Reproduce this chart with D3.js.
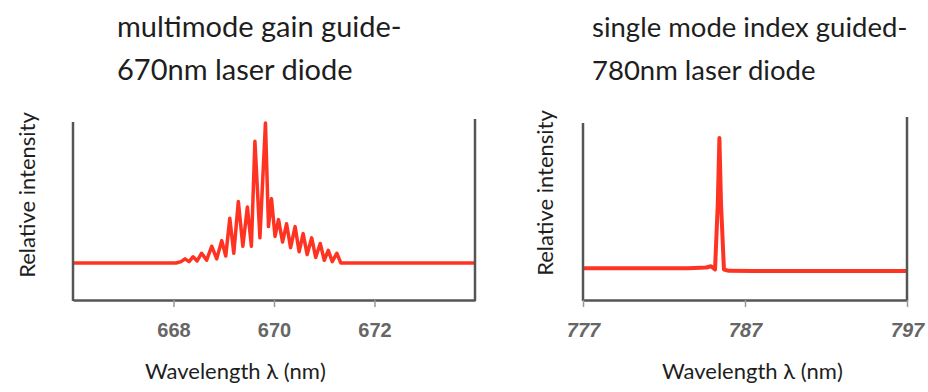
<!DOCTYPE html>
<html>
<head>
<meta charset="utf-8">
<script src="https://cdn.jsdelivr.net/npm/d3@7"></script>
<style>
  body { margin: 0; background: #fff; }
  svg { display: block; }
  .title, .label { font-family: Lato, "Open Sans", sans-serif; fill: #1e1e1e; }
  .tick text { font-family: "Liberation Sans", Arial, sans-serif; fill: #666; }
</style>
</head>
<body>
<div id="chart"></div>
<script>
// multimode gain-guided 670nm diode: peaks and valleys of the mode comb
var multiWavelength = [666, 668.05, 668.15, 668.23, 668.31, 668.39, 668.47, 668.56, 668.66, 668.76, 668.86,
  668.96, 669.04, 669.12, 669.2, 669.29, 669.38, 669.47, 669.55, 669.62, 669.72, 669.83, 669.89,
  669.95, 670.02, 670.09, 670.17, 670.25, 670.33, 670.42, 670.5, 670.58, 670.66, 670.75, 670.83,
  670.92, 671.0, 671.08, 671.16, 671.25, 671.33, 674];
var multiIntensity = [0, 0, 0.01, 0.03, 0.01, 0.045, 0.015, 0.07, 0.02, 0.12, 0.03,
  0.16, 0.05, 0.32, 0.07, 0.44, 0.12, 0.40, 0.12, 0.87, 0.18, 1.0, 0.26,
  0.46, 0.19, 0.31, 0.15, 0.28, 0.11, 0.26, 0.08, 0.21, 0.06, 0.18, 0.04,
  0.14, 0.02, 0.09, 0.01, 0.07, 0, 0];
var multiTicks = [668, 670, 672];

// single-mode index-guided 780nm diode
var singleWavelength = [777, 783.5, 784.6, 784.9, 785.15, 785.32, 785.42, 785.52, 785.7, 786.0, 787.5, 797];
var singleIntensity = [0.01, 0.01, 0.015, 0.025, 0.0, 0.5, 1.0, 0.5, 0.0, -0.01, -0.012, -0.012];
var singleTicks = [777, 787, 797];

var titleLeft = ["multimode gain guide-", "670nm laser diode"];
var titleRight = ["single mode index guided-", "780nm laser diode"];
var yLabel = "Relative intensity";
var xLabel = "Wavelength \u03bb (nm)";

var W = 928, H = 392;
var svg = d3.select("#chart").append("svg").attr("width", W).attr("height", H);

function panel(cfg) {
  var x = d3.scaleLinear().domain(cfg.xDomain).range([cfg.left, cfg.right]);
  var y = d3.scaleLinear().domain(cfg.yDomain).range([300, cfg.top]);
  var g = svg.append("g");

  var data = cfg.wl.map(function(d, i) { return [d, cfg.val[i]]; });
  var line = d3.line().x(function(d) { return x(d[0]); }).y(function(d) { return y(d[1]); });

  g.append("path")
      .datum(data)
      .attr("d", line)
      .attr("fill", "none")
      .attr("stroke", "#ff3322")
      .attr("stroke-width", cfg.lw)
      .attr("stroke-linejoin", "round");

  // frame: two verticals plus the bottom axis
  g.append("line")
      .attr("x1", x(cfg.xDomain[0])).attr("x2", x(cfg.xDomain[0]))
      .attr("y1", cfg.frameTopL).attr("y2", 301)
      .attr("stroke", "#555").attr("stroke-width", 2.5);
  g.append("line")
      .attr("x1", x(cfg.xDomain[1])).attr("x2", x(cfg.xDomain[1]))
      .attr("y1", cfg.frameTopR).attr("y2", 301)
      .attr("stroke", "#555").attr("stroke-width", 2.5);

  var axis = g.append("g")
      .attr("transform", "translate(0,300)")
      .call(d3.axisBottom(x).tickValues(cfg.ticks).tickSize(7).tickSizeOuter(0));
  axis.select(".domain").attr("stroke", "#555").attr("stroke-width", 2.5);
  axis.selectAll(".tick line").attr("stroke", "#999").attr("stroke-width", 1.5);
  axis.selectAll(".tick text")
      .attr("y", 37).attr("dy", 0)
      .style("font-size", "20px").style("font-weight", "bold").style("font-style", cfg.italic ? "italic" : "normal");

  svg.append("text")
      .attr("class", "label")
      .attr("transform", "translate(" + cfg.yLabelX + "," + cfg.yLabelY + ") rotate(-90)")
      .attr("text-anchor", "middle")
      .style("font-size", "22px")
      .text(yLabel);

  svg.append("text")
      .attr("class", "label")
      .attr("x", cfg.xLabelX).attr("y", 379)
      .style("font-size", "22px")
      .text(xLabel);

  cfg.title.forEach(function(t, i) {
    svg.append("text")
        .attr("class", "title")
        .attr("x", cfg.titleX).attr("y", 37 + i * 43)
        .style("font-size", cfg.titleSize + "px")
        .text(t);
  });
}

panel({
  xDomain: [666, 674], left: 73, right: 475,
  yDomain: [-0.264, 1], top: 123,
  wl: multiWavelength, val: multiIntensity, ticks: multiTicks, lw: 3.5,
  frameTopL: 122, frameTopR: 119,
  yLabelX: 35, yLabelY: 195, xLabelX: 145, titleX: 117, titleSize: 29,
  title: titleLeft, italic: false
});

panel({
  xDomain: [777, 797], left: 583, right: 907,
  yDomain: [-0.232, 1], top: 138,
  wl: singleWavelength, val: singleIntensity, ticks: singleTicks, lw: 4,
  frameTopL: 123, frameTopR: 117,
  yLabelX: 553, yLabelY: 193, xLabelX: 662, titleX: 592, titleSize: 27.5,
  title: titleRight, italic: true
});
</script>
</body>
</html>
